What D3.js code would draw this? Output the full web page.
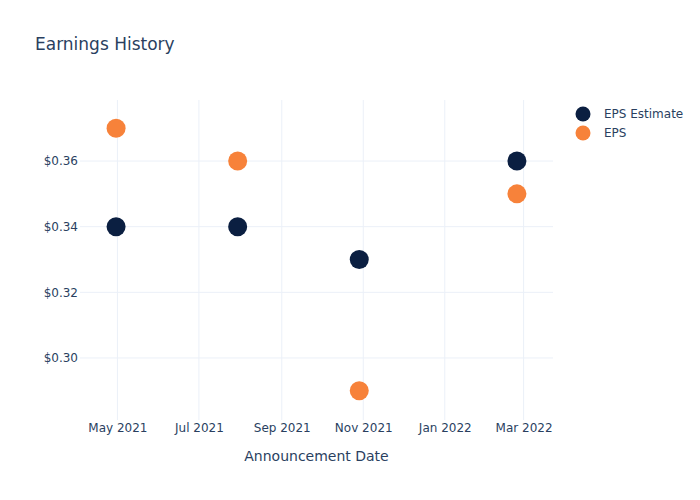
<!DOCTYPE html>
<html>
<head>
<meta charset="utf-8">
<script src="https://cdn.jsdelivr.net/npm/d3@7"></script>
<style>
  body { margin: 0; background: #fff; }
  text { font-family: "DejaVu Sans", sans-serif; fill: #2a3f5f; }
</style>
</head>
<body>
<div id="chart"></div>
<script>
// Data
var dates = ["2021-04-30", "2021-07-30", "2021-10-29", "2022-02-24"];
var epsEstimate = [0.34, 0.34, 0.33, 0.36];
var eps = [0.37, 0.36, 0.29, 0.35];
var yTicks = [0.30, 0.32, 0.34, 0.36];
var seriesNames = ["EPS Estimate", "EPS"];
var seriesColors = ["#0b1f41", "#f7823a"];

var width = 700;
var height = 500;
var margin = {top: 100, right: 147, bottom: 80, left: 80};
var parse = d3.timeParse("%Y-%m-%d");

var svg = d3.select("#chart").append("svg")
		.attr("width", width)
		.attr("height", height);

var x = d3.scaleTime()
		.domain([parse("2021-04-03"), parse("2022-03-23")])
		.range([margin.left, width - margin.right]);

var y = d3.scaleLinear()
		.domain([0.2811, 0.3786])
		.range([height - margin.bottom, margin.top]);

// gridlines
svg.append("g").selectAll("line")
		.data(yTicks)
		.enter().append("line")
		.attr("x1", margin.left).attr("x2", width - margin.right)
		.attr("y1", function(d) { return y(d); })
		.attr("y2", function(d) { return y(d); })
		.attr("stroke", "#ebf0f8");

var xTicks = d3.timeMonth.every(2).range(parse("2021-05-01"), parse("2022-03-02"));
svg.append("g").selectAll("line")
		.data(xTicks)
		.enter().append("line")
		.attr("x1", function(d) { return x(d); })
		.attr("x2", function(d) { return x(d); })
		.attr("y1", margin.top).attr("y2", height - margin.bottom)
		.attr("stroke", "#ebf0f8");

// axes
var xAxis = svg.append("g")
		.attr("transform", "translate(0," + (height - margin.bottom) + ")")
		.call(d3.axisBottom(x).tickValues(xTicks).tickFormat(d3.timeFormat("%b %Y")).tickSize(0).tickPadding(3));
xAxis.select(".domain").remove();
xAxis.selectAll("text").style("font-size", "12px").attr("fill", "#2a3f5f");

var yAxis = svg.append("g")
		.attr("transform", "translate(" + margin.left + ",0)")
		.call(d3.axisLeft(y).tickValues(yTicks).tickFormat(function(d) { return "$" + d.toFixed(2); }).tickSize(0).tickPadding(2));
yAxis.select(".domain").remove();
yAxis.selectAll("text").style("font-size", "12px").attr("fill", "#2a3f5f");

// points
var series = [epsEstimate, eps];
series.forEach(function(vals, i) {
	svg.append("g").selectAll("circle")
			.data(vals)
			.enter().append("circle")
			.attr("cx", function(d, j) { return x(parse(dates[j])); })
			.attr("cy", function(d) { return y(d); })
			.attr("r", 9.5)
			.attr("fill", seriesColors[i]);
});

// title and axis title
svg.append("text")
		.attr("x", 35).attr("y", 50)
		.style("font-size", "17px")
		.text("Earnings History");

svg.append("text")
		.attr("x", (margin.left + width - margin.right) / 2)
		.attr("y", 461)
		.attr("text-anchor", "middle")
		.style("font-size", "14px")
		.text("Announcement Date");

// legend
var legend = svg.append("g").selectAll("g")
		.data(seriesNames)
		.enter().append("g")
		.attr("transform", function(d, i) { return "translate(583," + (114 + i * 19) + ")"; });
legend.append("circle")
		.attr("r", 7.5)
		.attr("fill", function(d, i) { return seriesColors[i]; });
legend.append("text")
		.attr("x", 21).attr("dy", "0.35em")
		.style("font-size", "12px")
		.text(function(d) { return d; });
</script>
</body>
</html>
